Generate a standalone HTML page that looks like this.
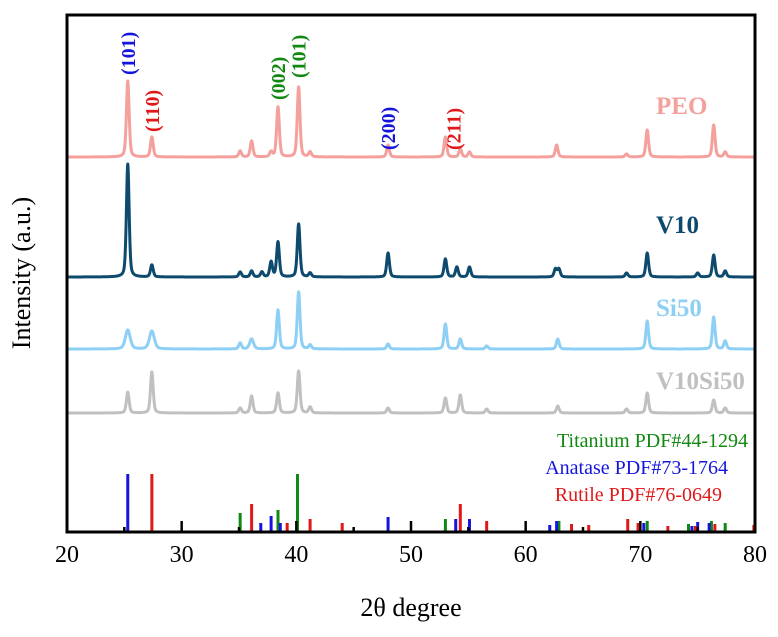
<!DOCTYPE html>
<html><head><meta charset="utf-8"><style>
body{margin:0;background:#fff;}
svg{display:block;font-family:"Liberation Serif",serif;}
</style></head><body>
<svg id="chart" width="778" height="637" viewBox="0 0 778 637">
<g id="traces"></g>
<g id="sticks"></g>
<g id="labels"></g>
<rect x="67" y="15" width="688" height="517" fill="none" stroke="#000" stroke-width="3"/>
<g id="ticks"></g>
<text x="411" y="616" text-anchor="middle" font-size="26">2θ degree</text>
<text transform="translate(30,273) rotate(-90)" text-anchor="middle" font-size="26">Intensity (a.u.)</text>
<text x="656" y="114" font-size="25" font-weight="bold" fill="#f4a09c">PEO</text>
<text x="656" y="233" font-size="25" font-weight="bold" fill="#0d4a6e">V10</text>
<text x="656" y="316" font-size="25" font-weight="bold" fill="#8dcff5">Si50</text>
<text x="656" y="389" font-size="25" font-weight="bold" fill="#c0c0c0">V10Si50</text>
<text x="748" y="447" text-anchor="end" font-size="20" fill="#118811">Titanium PDF#44-1294</text>
<text x="728" y="474" text-anchor="end" font-size="20" fill="#1515dd">Anatase PDF#73-1764</text>
<text x="722" y="501" text-anchor="end" font-size="20" fill="#e01818">Rutile PDF#76-0649</text>
</svg>
<script>
const xTicks=[20,30,40,50,60,70,80];
const peoPeaks=[[25.3,76],[27.4,20],[35.1,6],[36.1,16],[37.8,5],[38.4,50],[40.2,70],[41.2,5],[48.0,12],[53.0,20],[54.3,8],[55.1,5],[62.7,12],[68.8,3],[70.6,27],[76.4,32],[77.4,5]];
const v10Peaks=[[25.3,113],[27.4,12],[35.1,5],[36.1,6],[37.0,5],[37.8,15],[38.4,35],[40.2,53],[41.2,4],[48.0,24],[53.0,18],[54.0,10],[55.1,10],[62.6,8],[62.9,8],[68.8,4],[70.6,24],[75.0,4],[76.4,22],[77.4,6]];
const si50Peaks=[[25.3,19,0.25],[27.4,18,0.25],[35.1,6],[36.1,10,0.2],[38.4,39],[40.2,57],[41.2,4],[48.0,5],[53.0,25],[54.3,10],[56.6,3],[62.8,10],[70.6,28],[76.4,32],[77.4,8]];
const v10si50Peaks=[[25.3,21],[27.4,41],[35.1,5],[36.1,17],[38.4,20],[40.2,42],[41.2,6],[48.0,5],[53.0,15],[54.3,18],[56.6,4],[62.8,7],[68.8,4],[70.6,20],[76.4,13],[77.4,5]];
const titaniumSticks=[[35.1,18],[38.4,21],[40.1,57],[53.0,12],[62.9,10],[70.6,10],[74.2,7],[76.2,10],[77.4,8]];
const anataseSticks=[[25.3,57],[36.9,8],[37.8,15],[38.6,8],[48.0,14],[53.9,12],[55.1,12],[62.1,6],[62.7,10],[70.3,8],[74.5,5],[75.0,9],[76.0,8]];
const rutileSticks=[[27.4,57],[36.1,27],[39.2,8],[41.2,12],[44.0,8],[54.3,27],[56.6,10],[64.0,7],[65.5,6],[68.9,12],[69.8,8],[72.4,5],[74.8,5],[76.5,7],[79.9,6]];
const NS="http://www.w3.org/2000/svg";
const X=v=>67+(v-20)*(688/60);
function mk(tag,attrs,parent){const e=document.createElementNS(NS,tag);for(const k in attrs)e.setAttribute(k,attrs[k]);parent.appendChild(e);return e;}
const tr=document.getElementById('traces');
function trace(peaks,base,color,name){
  let d="";
  for(let t=20;t<=80.001;t+=0.02){
    let y=0;for(const pk of peaks){const w=pk[2]||0.14;const u=(t-pk[0])/w;y+=pk[1]*(0.6*Math.exp(-u*u*0.693)+0.4/(1+u*u));}
    d+=(d?"L":"M")+X(t).toFixed(2)+","+(base-y).toFixed(2);
  }
  const e=mk('path',{d:d,fill:'none',stroke:color,'stroke-width':3,'stroke-linejoin':'round'},tr);
  
  
}
trace(peoPeaks,157,'#f4a09c','trace-peo');
trace(v10Peaks,277,'#0d4a6e','trace-v10');
trace(si50Peaks,349,'#8dcff5','trace-si50');
trace(v10si50Peaks,413,'#c0c0c0','trace-v10si50');
const st=document.getElementById('sticks');
function sticks(arr,color,name){for(const [p,h] of arr){const e=mk('line',{x1:X(p),x2:X(p),y1:531,y2:531-h,stroke:color,'stroke-width':3},st);
  
  }}
sticks(titaniumSticks,'#118811','stick-titanium');
sticks(anataseSticks,'#1515dd','stick-anatase');
sticks(rutileSticks,'#e01818','stick-rutile');
const tk=document.getElementById('ticks');
for(let v=25;v<80;v+=5){const major=v%10===0;const e=mk('line',{x1:X(v),x2:X(v),y1:531,y2:531-(major?10:4),stroke:'#000','stroke-width':2.5},tk);
  
  }
for(const v of xTicks){const e=mk('text',{x:X(v),y:562,'text-anchor':'middle','font-size':24},tk);e.textContent=v;
  
  }
const lb=document.getElementById('labels');
const peakLabels=[[25.3,75,'(101)','#1515dd'],[27.4,132,'(110)','#e01818'],[38.4,100,'(002)','#118811'],[40.2,78,'(101)','#118811'],[48.0,150,'(200)','#1515dd'],[53.7,150,'(211)','#e01818']];
for(const [p,yb,t,c] of peakLabels){const e=mk('text',{transform:`translate(${X(p)+7},${yb}) rotate(-90)`,'font-size':20,'font-weight':'bold',fill:c},lb);e.textContent=t;
  
  }
</script>
</body></html>
